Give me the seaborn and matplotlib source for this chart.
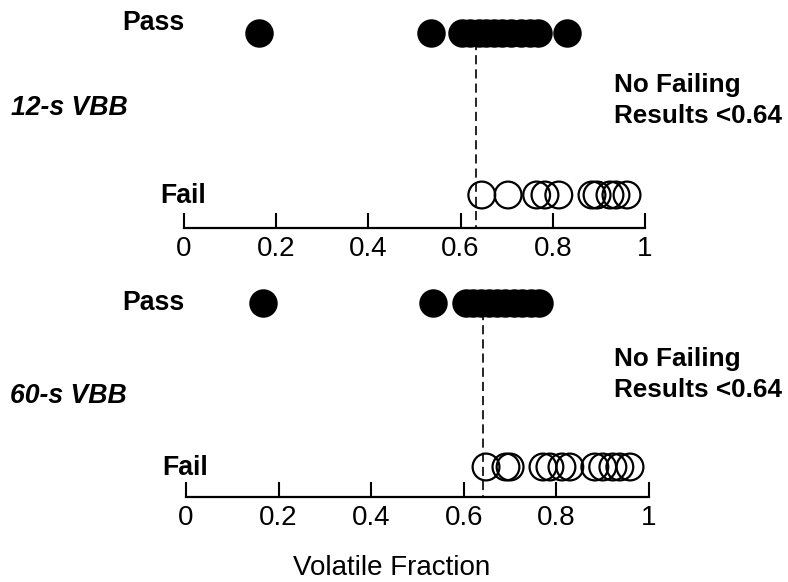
import matplotlib
matplotlib.use("Agg")
import matplotlib.pyplot as plt
import seaborn as sns
import pandas as pd

# Volatile fraction of each sample, by outcome and test
pass_12s = [0.163, 0.536, 0.603, 0.62, 0.64, 0.655, 0.672, 0.69, 0.71, 0.73, 0.75, 0.768, 0.831]
fail_12s = [0.646, 0.703, 0.765, 0.783, 0.813, 0.885, 0.896, 0.924, 0.937, 0.961]
pass_60s = [0.166, 0.533, 0.605, 0.62, 0.638, 0.655, 0.672, 0.69, 0.708, 0.725, 0.745, 0.762]
fail_60s = [0.648, 0.691, 0.70, 0.771, 0.786, 0.812, 0.829, 0.883, 0.90, 0.922, 0.937, 0.959]
cutoffs = [0.633, 0.641]

panel_titles = ["12-s VBB", "60-s VBB"]
outcomes = ["Pass", "Fail"]
note_text = "No Failing\nResults <0.64"
tick_values = [0, 0.2, 0.4, 0.6, 0.8, 1]
tick_labels = ["0", "0.2", "0.4", "0.6", "0.8", "1"]
x_label = "Volatile Fraction"

sns.set_style("white")
plt.rcParams["font.family"] = ["Liberation Sans", "DejaVu Sans"]
plt.rcParams["text.color"] = "black"
plt.rcParams["xtick.color"] = "black"
plt.rcParams["axes.labelcolor"] = "black"

W, H = 788, 582
fig = plt.figure(figsize=(W / 100, H / 100), dpi=100)


def fx(px):
    return px / W


def fy(py):
    return 1 - py / H


# pixel layout of each panel: x of 0, x of 1, pass row, fail row, axis line, top
layouts = [
    dict(x0=184, x1=645, yp=33, yf=195, yax=228, ytop=4,
         pass_lbl=(185, 30), fail_lbl=(206, 203), title=(11, 115), note=(614, 92)),
    dict(x0=186, x1=649, yp=303, yf=467, yax=497, ytop=272,
         pass_lbl=(185, 310), fail_lbl=(208, 475), title=(10, 403), note=(614, 366)),
]
datasets = [(pass_12s, fail_12s), (pass_60s, fail_60s)]

label_fs = 19.2
for i, (lay, (pv, fv)) in enumerate(zip(layouts, datasets)):
    ax = fig.add_axes([fx(lay["x0"]), fy(lay["yax"]),
                       fx(lay["x1"] - lay["x0"]), (lay["yax"] - lay["ytop"]) / H])
    df_p = pd.DataFrame({"value": pv, "outcome": "Pass"})
    df_f = pd.DataFrame({"value": fv, "outcome": "Fail"})

    thr = cutoffs[i]
    step = lay["yf"] - lay["yp"]
    y_axis_val = (lay["yax"] - lay["yp"]) / step
    y_top_val = (lay["ytop"] - lay["yp"]) / step

    ax.plot([thr, thr], [0.05, y_axis_val], color="black", lw=1.2,
            linestyle=(0, (5.5, 3)), zorder=1, clip_on=False)

    sns.stripplot(data=df_p, x="value", y="outcome", order=outcomes, jitter=False,
                  color="black", size=20.5, linewidth=0, ax=ax, zorder=3)
    sns.stripplot(data=df_f, x="value", y="outcome", order=outcomes, jitter=False,
                  color="black", size=19.3, linewidth=1.6, ax=ax, zorder=3)
    open_pts = ax.collections[-1]
    open_pts.set_facecolor("none")
    open_pts.set_edgecolor("black")
    open_pts.set_linewidth(1.6)

    ax.set_xlim(0, 1)
    ax.set_ylim(y_axis_val, y_top_val)
    ax.set_xticks(tick_values)
    ax.set_xticklabels(tick_labels, fontsize=20)
    ax.set_yticks([])
    ax.set_xlabel("")
    ax.set_ylabel("")
    for s in ["top", "left", "right"]:
        ax.spines[s].set_visible(False)
    ax.spines["bottom"].set_linewidth(1.6)
    ax.spines["bottom"].set_color("black")
    ax.tick_params(axis="x", direction="in", length=11, width=1.5, pad=6,
                   colors="black", bottom=True)
    ax.patch.set_alpha(0)

    px, py = lay["pass_lbl"]
    fig.text(fx(px), fy(py), outcomes[0], ha="right", va="baseline",
             fontsize=label_fs, fontweight="bold")
    px, py = lay["fail_lbl"]
    fig.text(fx(px), fy(py), outcomes[1], ha="right", va="baseline",
             fontsize=label_fs, fontweight="bold")
    px, py = lay["title"]
    fig.text(fx(px), fy(py), panel_titles[i], ha="left", va="baseline",
             fontsize=label_fs, fontweight="bold", fontstyle="italic")
    px, py = lay["note"]
    line1, line2 = note_text.split("\n")
    fig.text(fx(px), fy(py), line1, ha="left", va="baseline",
             fontsize=label_fs - 0.4, fontweight="bold")
    fig.text(fx(px), fy(py + 31), line2, ha="left", va="baseline",
             fontsize=label_fs - 0.4, fontweight="bold")

fig.text(fx(392), fy(575), x_label, ha="center", va="baseline", fontsize=20)

fig.savefig("out.png", dpi=100, facecolor="white")
